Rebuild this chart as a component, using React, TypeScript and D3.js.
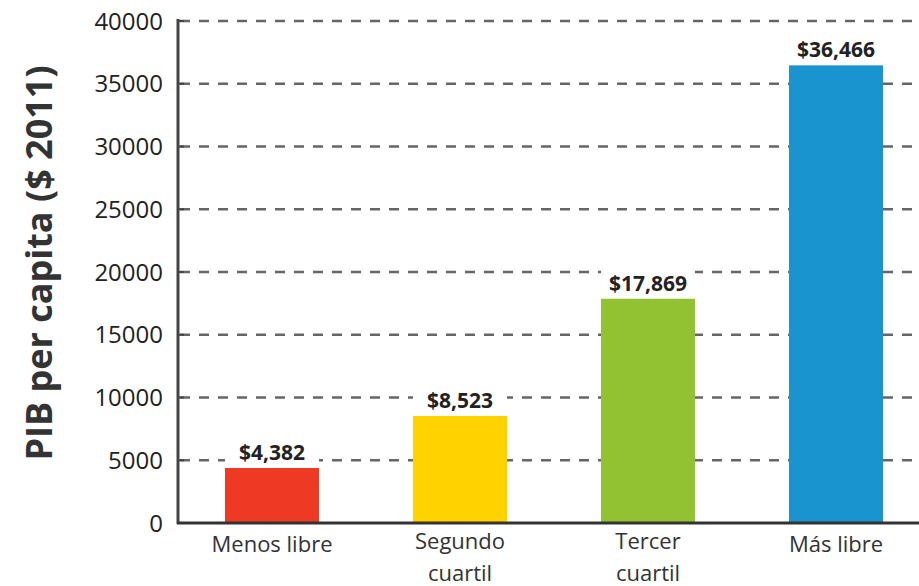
import React from "react";
import { scaleBand, scaleLinear, format } from "d3";

// quartiles of economic freedom vs GDP per capita
const categories = [["Menos libre"], ["Segundo", "cuartil"], ["Tercer", "cuartil"], ["Más libre"]];
const values = [4382, 8523, 17869, 36466];
const colors = ["#EE3A24", "#FFD200", "#92C132", "#1A94CF"];
const yTicks = [0, 5000, 10000, 15000, 20000, 25000, 30000, 35000, 40000];

const width = 919;
const height = 586;

function App() {
  const x = scaleBand<number>()
    .domain(values.map((v, i) => i))
    .range([178, 930])
    .paddingInner(0.5)
    .paddingOuter(0.25);

  const y = scaleLinear().domain([0, 40000]).range([523, 21]);
  const money = format("$,");

  return (
    <svg width={width} height={height} style={{ position: "absolute", left: 0, top: 0, background: "#fff" }}
      fontFamily="'Open Sans', sans-serif">
      {/* gridlines */}
      {yTicks.filter(t => t > 0).map(t => (
        <line key={t} x1={180} x2={width} y1={y(t)} y2={y(t)}
          stroke="#666" strokeWidth={2.5} strokeDasharray="10,9" />
      ))}

      {/* y tick labels */}
      {yTicks.map(t => (
        <g key={"l" + t}>
          <line x1={178} x2={184} y1={y(t)} y2={y(t)} stroke="#444" strokeWidth={2} />
          <text x={163} y={y(t)} dy="0.36em" textAnchor="end" fontSize={24} fill="#222">{t}</text>
        </g>
      ))}

      {/* bars */}
      {values.map((v, i) => (
        <g key={"b" + i}>
          <rect x={x(i)} y={y(v) - 30} width={x.bandwidth()} height={30} fill="#fff" />
          <rect x={x(i)} y={y(v)} width={x.bandwidth()} height={y(0) - y(v)} fill={colors[i]} />
          <text x={x(i)! + x.bandwidth() / 2} y={y(v) - 8} textAnchor="middle"
            fontSize={21} fontWeight="bold" fill="#222">{money(v)}</text>
        </g>
      ))}

      {/* axes */}
      <line x1={178} x2={178} y1={19} y2={524} stroke="#444" strokeWidth={3} />
      <line x1={177} x2={width} y1={523} y2={523} stroke="#333" strokeWidth={3} />

      {/* x labels */}
      {categories.map((lines, i) => (
        <text key={"c" + i} x={x(i)! + x.bandwidth() / 2} textAnchor="middle" fontSize={22} fill="#333">
          {lines.map((s, j) => (
            <tspan key={j} x={x(i)! + x.bandwidth() / 2}
              y={lines.length === 1 ? 552 : 549 + j * 32}>{s}</tspan>
          ))}
        </text>
      ))}

      {/* y title */}
      <text transform="translate(52,263) rotate(-90)" textAnchor="middle" fontSize={36}
        fontWeight="bold" fill="#333">PIB per capita ($ 2011)</text>
    </svg>
  );
}

export default App;
